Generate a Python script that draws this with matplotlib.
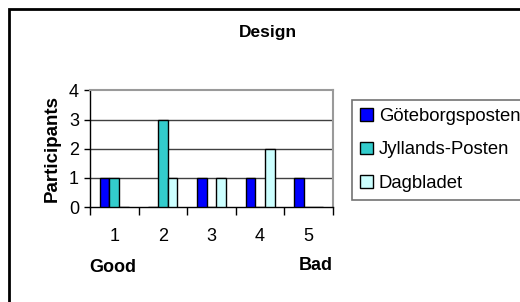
import numpy as np
import matplotlib
matplotlib.use("Agg")
import matplotlib.pyplot as plt
from matplotlib.patches import Rectangle

plt.rcParams['font.family'] = ['Liberation Sans', 'DejaVu Sans']

# data
categories = ['1', '2', '3', '4', '5']
series_names = ['Göteborgsposten', 'Jyllands-Posten', 'Dagbladet']
goteborg = [1, 0, 1, 1, 1]
jyllands = [1, 3, 0, 0, 0]
dagbladet = [0, 1, 1, 2, 0]
colors = ['#0000FF', '#33CCCC', '#CCFFFF']
y_ticks = [0, 1, 2, 3, 4]

W, H = 520, 302
fig = plt.figure(figsize=(W / 100, H / 100), dpi=100)

# plot area in pixels: left 90, right 333, top 90.5, bottom 207
ax = fig.add_axes([90 / W, (H - 207) / H, (333 - 90) / W, (207 - 90.5) / H])

x = np.arange(len(categories))
bw = 0.2
values = [goteborg, jyllands, dagbladet]
for i, (vals, col, name) in enumerate(zip(values, colors, series_names)):
    ax.bar(x + (i - 1) * bw, vals, bw, color=col, edgecolor='black',
           linewidth=1, label=name, zorder=3)

ax.set_xlim(-0.5, len(categories) - 0.5)
ax.set_ylim(0, 4)
ax.set_yticks(y_ticks)
for v in y_ticks[1:-1]:
    ax.axhline(v, color='#404040', linewidth=1, zorder=1)

fs = 13
ax.set_xticks(x)
ax.set_xticklabels(categories)
ax.set_xticks(np.arange(len(categories) + 1) - 0.5, minor=True)
ax.tick_params(axis='x', which='major', length=0, pad=15, labelsize=fs)
ax.tick_params(axis='x', which='minor', length=6, width=1, direction='out')
ax.tick_params(axis='y', length=4, width=1, pad=4, labelsize=fs)

for side in ['top', 'right']:
    ax.spines[side].set_color('#9a9a9a')
    ax.spines[side].set_linewidth(1.5)
for side in ['left', 'bottom']:
    ax.spines[side].set_color('black')
    ax.spines[side].set_linewidth(1)

ax.set_ylabel('Participants', fontsize=13.5, fontweight='bold', labelpad=6)

fig.text(268 / W, 1 - 32 / H, 'Design', ha='center', va='center',
         fontsize=12.5, fontweight='bold')
fig.text(113 / W, 1 - 268 / H, 'Good', ha='center', va='center',
         fontsize=fs, fontweight='bold')
fig.text(316 / W, 1 - 266 / H, 'Bad', ha='center', va='center',
         fontsize=fs, fontweight='bold')

leg = fig.legend(loc='upper left', bbox_to_anchor=(352 / W, 1 - 99.5 / H),
                 fontsize=13.3, frameon=True, fancybox=False, borderpad=0.45,
                 handlelength=0.7, handleheight=0.7, handletextpad=0.3,
                 labelspacing=0.9, borderaxespad=0)
leg.get_frame().set_edgecolor('#505050')
leg.get_frame().set_linewidth(1.2)

# outer chart border, only top and left visible
fig.patches.append(Rectangle((8.5 / W, -0.1), 1.2, 1.1 - 9.5 / H,
                             transform=fig.transFigure, fill=False,
                             edgecolor='black', linewidth=2))

fig.savefig('out.png', dpi=100)
